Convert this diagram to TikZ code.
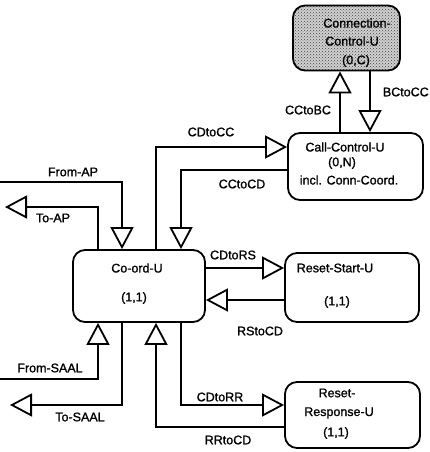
\documentclass[tikz,border=0pt]{standalone}
\usepackage{fontspec}
\setmainfont{Liberation Sans}[FakeBold=1.2,BoldFont=Liberation Sans]
\usetikzlibrary{arrows.meta,patterns}
\begin{document}
\begin{tikzpicture}[x=1pt,y=-1pt,line width=1.8pt,
  ubox/.style={draw,rounded corners=12pt,inner sep=0pt},
  sig/.style={-{Triangle[open,length=22pt,width=23pt]}},
  lbl/.style={font=\fontsize{12.5}{14}\selectfont\bfseries}]%
% units are pixels of the original figure
\useasboundingbox (0,0) rectangle (429,452);
\node[ubox,minimum width=107pt,minimum height=65pt,
  preaction={fill=black!18},pattern=crosshatch dots,pattern color=black!75] (conn) at (346.5,38) {};
\node[ubox,minimum width=135pt,minimum height=67pt] (call) at (355.5,166.5) {};
\node[ubox,minimum width=132pt,minimum height=72pt] (coord) at (139,286) {};
\node[ubox,minimum width=134pt,minimum height=69pt] (rstart) at (352,287.5) {};
\node[ubox,minimum width=135pt,minimum height=66pt] (rresp) at (352.5,415) {};
\node[lbl] (connA) at (357,23) {Connection-};
\node[lbl] (connB) at (352,41) {Control-U};
\node[lbl] (connC) at (356,61) {(0,C)};
\node[lbl] (callA) at (345,147) {Call-Control-U};
\node[lbl] (callB) at (342,163) {(0,N)};
\node[lbl] (callC) at (349,180) {incl. Conn-Coord.};
\node[lbl] (coordA) at (137,268) {Co-ord-U};
\node[lbl] (coordB) at (134,298) {(1,1)};
\node[lbl] (rstartA) at (335,268) {Reset-Start-U};
\node[lbl] (rstartB) at (337,302) {(1,1)};
\node[lbl] (rrespA) at (337,393) {Reset-};
\node[lbl] (rrespB) at (339,413) {Response-U};
\node[lbl] (rrespC) at (336,433) {(1,1)};
% columns and rows of the signal lines
\coordinate (cb) at (340,0);
\coordinate (bc) at (370,0);
\coordinate (c1) at (98,0);
\coordinate (c2) at (122,0);
\coordinate (c3) at (156,0);
\coordinate (c4) at (181,0);
\coordinate (r1) at (0,147);
\coordinate (r2) at (0,170);
\coordinate (r3) at (0,268);
\coordinate (r4) at (0,300);
\coordinate (r5) at (0,405);
\coordinate (r6) at (0,427);
\coordinate (fromap) at (0,182);
\coordinate (toap) at (5,207);
\coordinate (fromsaal) at (0,379);
\coordinate (tosaal) at (10,405);
% signals
\draw[sig] (call.north -| cb) -- (conn.south -| cb);
\draw[sig] (conn.south -| bc) -- (call.north -| bc);
\draw[sig] (fromap) -| (coord.north -| c2);
\draw[sig] (coord.north -| c1) |- (toap);
\draw[sig] (coord.north -| c3) |- (call.west |- r1);
\draw[sig] (call.west |- r2) -| (coord.north -| c4);
\draw[sig] (coord.east |- r3) -- (rstart.west |- r3);
\draw[sig] (rstart.west |- r4) -- (coord.east |- r4);
\draw[sig] (fromsaal) -| (coord.south -| c1);
\draw[sig] (coord.south -| c2) |- (tosaal);
\draw[sig] (rresp.west |- r6) -| (coord.south -| c3);
\draw[sig] (coord.south -| c4) |- (rresp.west |- r5);
\node[lbl] (lCCtoBC) at (308,110) {CCtoBC};
\node[lbl,anchor=west,inner sep=0pt] (lBCtoCC) at (382,92) {BCtoCC};
\node[lbl] (lCDtoCC) at (211,132) {CDtoCC};
\node[lbl] (lCCtoCD) at (242,184) {CCtoCD};
\node[lbl] (lFromAP) at (73,172) {From-AP};
\node[lbl] (lToAP) at (53,218) {To-AP};
\node[lbl] (lCDtoRS) at (233,255) {CDtoRS};
\node[lbl] (lRStoCD) at (260,331) {RStoCD};
\node[lbl] (lFromSAAL) at (50,368) {From-SAAL};
\node[lbl] (lToSAAL) at (80,417) {To-SAAL};
\node[lbl] (lCDtoRR) at (220,397) {CDtoRR};
\node[lbl] (lRRtoCD) at (228,440) {RRtoCD};
\end{tikzpicture}
\end{document}
